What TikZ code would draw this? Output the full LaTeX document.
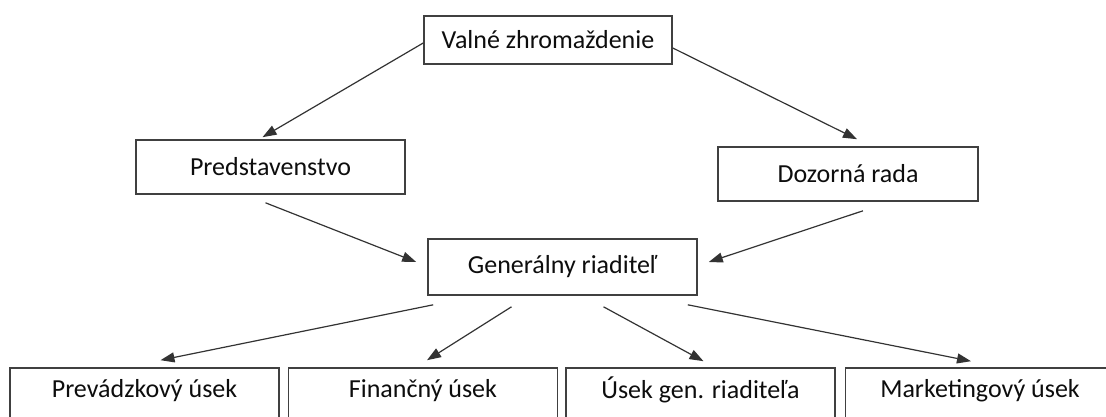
\documentclass[tikz,border=0pt]{standalone}
\usepackage{fontspec}
\setmainfont{Carlito}
\usetikzlibrary{arrows.meta}
\tikzset{
        box/.style={draw=black!75, line width=1.6pt, text=black!95, font=\fontsize{26}{30}\selectfont, inner sep=0pt},
        wide/.style={box, minimum width=269pt, minimum height=54pt},
        low/.style={box, minimum width=269pt, minimum height=80pt},
        arr/.style={draw=black!80, line width=1.2pt, -{Triangle[length=14pt,width=10pt]}}
          }
\begin{document}
\begin{tikzpicture}[x=1pt,y=-1pt]
        \useasboundingbox (0,0) rectangle (1106,417);
        \clip (0,0) rectangle (1106,417);
        \node[box, minimum width=248pt, minimum height=48pt] (valne) at (548,40) {Valné zhromaždenie};
        \node[wide] (pred) at (270.5,167) {Predstavenstvo};
        \node[wide, minimum width=260pt] (dozor) at (848,174) {Dozorná rada};
        \node[wide, minimum height=56pt] (gen) at (562.5,267) {Generálny riaditeľ};
        \node[low, text depth=40pt] (prev) at (144.5,408) {Prevádzkový úsek};
        \node[low, text depth=40pt] (fin) at (423,408) {Finančný úsek};
        \node[low, text depth=40pt] (usek) at (700.5,408) {Úsek gen. riaditeľa};
        \node[low, text depth=40pt] (mark) at (980,408) {Marketingový úsek};
        \draw[arr] ([yshift=-3pt]valne.west) -- ([xshift=-8pt,yshift=2pt]pred.north);
        \draw[arr] ([yshift=-8pt]valne.east) -- ([xshift=9pt,yshift=7pt]dozor.north);
        \draw[arr] ([xshift=-5pt,yshift=-8pt]pred.south) -- ([xshift=-11pt,yshift=5pt]gen.west);
        \draw[arr] ([xshift=15pt,yshift=-9pt]dozor.south) -- ([xshift=11pt,yshift=5pt]gen.east);
        \draw[arr] ([xshift=6pt,yshift=-9pt]gen.south west) -- ([xshift=16pt,yshift=7pt]prev.north);
        \draw[arr] ([xshift=-51pt,yshift=-11pt]gen.south) -- ([xshift=4pt,yshift=7pt]fin.north);
        \draw[arr] ([xshift=41pt,yshift=-11pt]gen.south) -- ([xshift=3pt,yshift=6pt]usek.north);
        \draw[arr] ([xshift=-10pt,yshift=-9pt]gen.south east) -- ([xshift=-9pt,yshift=6pt]mark.north);
\end{tikzpicture}
\end{document}
